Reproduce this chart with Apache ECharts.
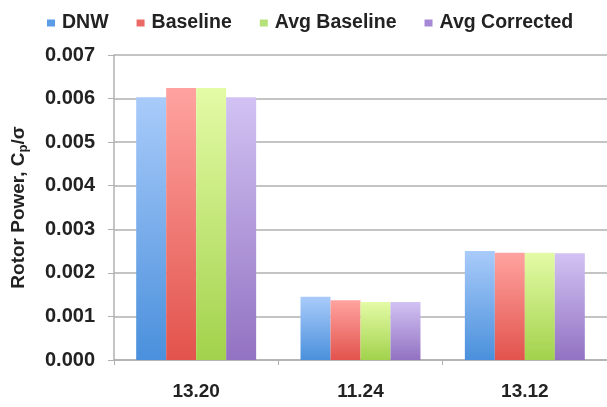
<!DOCTYPE html>
<html><head><meta charset="utf-8">
<script src="https://cdn.jsdelivr.net/npm/echarts@6/dist/echarts.min.js"></script>
<style>html,body{margin:0;padding:0;background:#fff}#c{width:607px;height:407px}</style>
</head><body><div id="c"></div>
<script>
const categories = ['13.20', '11.24', '13.12'];
const seriesNames = ['DNW', 'Baseline', 'Avg Baseline', 'Avg Corrected'];
const dnw = [0.00603, 0.00145, 0.00250];
const baseline = [0.00624, 0.00137, 0.00246];
const avgBaseline = [0.00624, 0.00133, 0.00246];
const avgCorrected = [0.00603, 0.00133, 0.00245];
const yTicks = [0, 0.001, 0.002, 0.003, 0.004, 0.005, 0.006, 0.007];

const palette = [
  ['#a9cbfa', '#4a90dc'],
  ['#ffa3a0', '#e2534c'],
  ['#e4fba6', '#a2d24c'],
  ['#d2c2f3', '#9272c2']
];
const legendColors = ['#5a9ce6', '#ec6a66', '#b6e07a', '#a688d6'];
const values = [dnw, baseline, avgBaseline, avgCorrected];

const chart = echarts.init(document.getElementById('c'));
chart.setOption({
  animation: false,
  backgroundColor: '#fff',
  textStyle: { fontFamily: 'Liberation Sans, Arial, sans-serif' },
  legend: {
    top: 8, left: 42,
    icon: 'rect', itemWidth: 8, itemHeight: 7, itemGap: 28,
    textStyle: { fontSize: 19.5, fontWeight: 'bold', color: '#222', padding: [0,0,0,2] },
    data: seriesNames.map((n, i) => ({ name: n, itemStyle: { color: legendColors[i] } }))
  },
  grid: { left: 114, right: 0, top: 55, bottom: 47, containLabel: false },
  xAxis: {
    type: 'category', data: categories,
    axisLine: { lineStyle: { color: '#b0b0b0', width: 1.5 } },
    axisTick: { show: true, length: 5, lineStyle: { color: '#b0b0b0' } },
    axisLabel: { fontSize: 19, fontWeight: 'bold', color: '#222', margin: 22 }
  },
  yAxis: {
    type: 'value', min: 0, max: 0.007, interval: 0.001,
    name: '{a|Rotor Power, C}{b|p}{a|/σ}',
    nameLocation: 'middle', nameRotate: 90, nameGap: 84,
    nameTextStyle: {
      rich: {
        a: { fontSize: 19, fontWeight: 'bold', color: '#222', fontFamily: 'Liberation Sans, Arial' },
        b: { fontSize: 13, fontWeight: 'bold', color: '#222', padding: [9, 0, 0, 0], fontFamily: 'Liberation Sans, Arial' }
      }
    },
    axisLine: { show: true, lineStyle: { color: '#b0b0b0', width: 1.5 } },
    axisTick: { show: true, length: 6, lineStyle: { color: '#b0b0b0' } },
    axisLabel: {
      fontSize: 20, fontWeight: 'bold', color: '#222', margin: 19,
      formatter: v => {
        const t = yTicks.find(x => Math.abs(x - v) < 1e-9);
        return (t !== undefined ? t : v).toFixed(3);
      }
    },
    splitLine: { lineStyle: { color: '#b0b0b0', width: 1.5 } }
  },
  series: seriesNames.map((n, i) => ({
    name: n, type: 'bar', data: values[i],
    barGap: '0%', barCategoryGap: '27%',
    itemStyle: {
      color: new echarts.graphic.LinearGradient(0, 0, 0, 1, [
        { offset: 0, color: palette[i][0] },
        { offset: 1, color: palette[i][1] }
      ])
    }
  }))
});
</script></body></html>
